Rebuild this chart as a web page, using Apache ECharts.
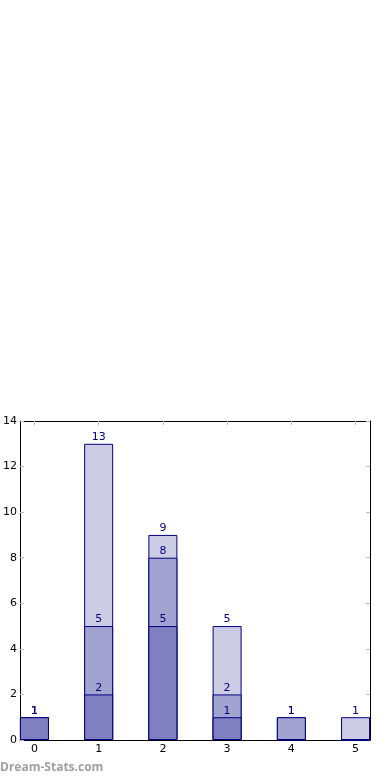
<!DOCTYPE html>
<html>
<head>
<meta charset="utf-8">
<script src="https://cdn.jsdelivr.net/npm/echarts@6/dist/echarts.min.js"></script>
<style>
html,body{margin:0;padding:0;background:#fff;}
#chart{width:390px;height:780px;}
</style>
</head>
<body>
<div id="chart"></div>
<script>
// Data (cumulative levels, drawn overlapping)
const categories = [0, 1, 2, 3, 4, 5];
const totalValues = [1, 13, 9, 5, 1, 1];   // lightest, back
const middleValues = [1, 5, 8, 2, 1, 0];   // medium
const lowValues = [1, 2, 5, 1, 0, 0];      // darkest, front
const yTicks = [0, 2, 4, 6, 8, 10, 12, 14];

const chart = echarts.init(document.getElementById('chart'), null, {renderer: 'canvas'});

function pairs(vals) { return categories.map((c, i) => [c, vals[i]]); }

const font = 'DejaVu Sans';
const label = {
  show: true, position: 'top', distance: 1, color: '#000080',
  fontFamily: font, fontSize: 11,
  formatter: p => (p.value[1] === 0 ? '' : String(p.value[1]))
};
function barSeries(name, vals, color) {
  return {
    name, type: 'bar', data: pairs(vals), barWidth: 29, barGap: '-100%',
    xAxisIndex: 0, yAxisIndex: 0, clip: false,
    itemStyle: {color, borderColor: '#000080', borderWidth: 1},
    label, emphasis: {disabled: true}, animation: false
  };
}

const tickStyle = {show: true, inside: true, length: 4, lineStyle: {color: '#bbbbbb', width: 1}};
const axisLine = {show: true, onZero: false, lineStyle: {color: '#000', width: 1}};

chart.setOption({
  animation: false,
  grid: {left: 19, right: 20, top: 421, bottom: 40, containLabel: false},
  xAxis: [
    {type: 'value', min: -0.225, max: 5.225, position: 'bottom',
     axisLine, splitLine: {show: false},
     axisTick: Object.assign({customValues: categories}, tickStyle),
     axisLabel: {customValues: categories, color: '#000', fontFamily: font, fontSize: 11, margin: 4}},
    {type: 'value', min: -0.225, max: 5.225, position: 'top',
     axisLine, splitLine: {show: false},
     axisTick: Object.assign({customValues: categories}, tickStyle),
     axisLabel: {show: false}}
  ],
  yAxis: [
    {type: 'value', min: 0, max: 14, interval: 2, position: 'left',
     axisLine, splitLine: {show: false}, axisTick: tickStyle,
     axisLabel: {color: '#000', fontFamily: font, fontSize: 11, margin: 3}},
    {type: 'value', min: 0, max: 14, interval: 2, position: 'right',
     axisLine, splitLine: {show: false}, axisTick: tickStyle,
     axisLabel: {show: false}}
  ],
  series: [
    barSeries('total', totalValues, '#cccce5'),
    barSeries('middle', middleValues, '#a3a3d1'),
    barSeries('low', lowValues, '#8080c0')
  ],
  graphic: [{
    type: 'text', left: 0, top: 762,
    style: {text: 'Dream-Stats.com', fill: '#a0a0a0', font: 'bold 12px "Open Sans"'}
  }]
});
</script>
</body>
</html>
